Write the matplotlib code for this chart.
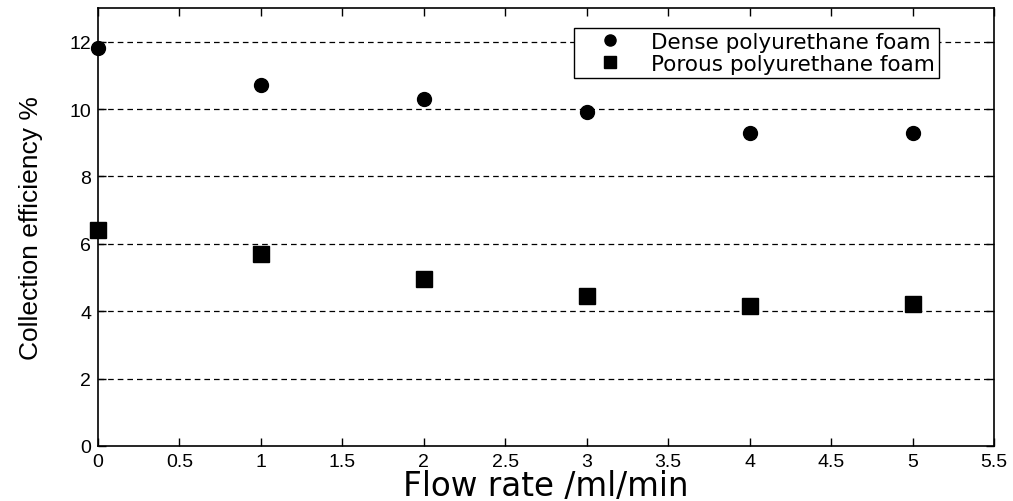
import matplotlib
matplotlib.use("Agg")
import matplotlib.pyplot as plt

flow_rate = [0, 1, 2, 3, 4, 5]
dense_foam = [11.8, 10.7, 10.3, 9.9, 9.3, 9.3]
porous_foam = [6.4, 5.7, 4.95, 4.45, 4.15, 4.2]
x_ticks = [0, 0.5, 1, 1.5, 2, 2.5, 3, 3.5, 4, 4.5, 5, 5.5]
y_ticks = [0, 2, 4, 6, 8, 10, 12]

plt.rcParams['font.family'] = ['Liberation Sans', 'DejaVu Sans']

fig = plt.figure(figsize=(10.13, 5.02), dpi=100)
ax = fig.add_axes([0.0967, 0.1096, 0.8845, 0.8725])

ax.plot(flow_rate, dense_foam, 'o', color='black', markersize=10,
        label='Dense polyurethane foam', clip_on=False, zorder=3)
ax.plot(flow_rate, porous_foam, 's', color='black', markersize=11,
        label='Porous polyurethane foam', clip_on=False, zorder=3)

ax.set_xlim(0, 5.5)
ax.set_ylim(0, 13)
ax.set_xticks(x_ticks)
ax.set_xticklabels([f'{t:g}' for t in x_ticks])
ax.set_yticks(y_ticks)

for y in y_ticks[1:]:
    ax.axhline(y, color='black', linestyle=(0, (4.5, 3.2)), linewidth=0.9, zorder=1)

ax.tick_params(direction='in', top=True, right=True, length=6, width=1,
               labelsize=14, pad=5)
for s in ax.spines.values():
    s.set_linewidth(1.2)

ax.set_xlabel('Flow rate /ml/min', fontsize=23.5, labelpad=-1,
              family=['DejaVu Sans'])
ax.set_ylabel('Collection efficiency %', fontsize=19, labelpad=19)

leg = ax.legend(loc='upper right', bbox_to_anchor=(0.951, 0.98),
                prop={'family': 'DejaVu Sans', 'size': 15.5},
                frameon=True, fancybox=False, edgecolor='black',
                markerscale=0.8, handletextpad=0.4, borderpad=0.2,
                labelspacing=0.1, handlelength=3.0)
leg.get_frame().set_linewidth(1.0)
leg.get_frame().set_alpha(1)
leg.set_zorder(5)

fig.savefig('out.png', dpi=100)
